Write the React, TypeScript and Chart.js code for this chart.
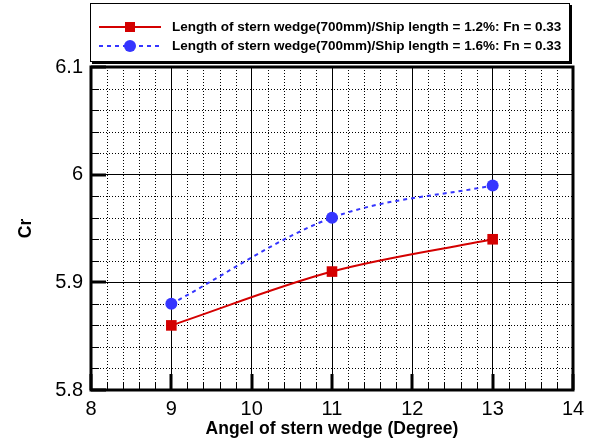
import React, { useEffect, useRef } from "react";
import { Chart, registerables } from "chart.js";

Chart.register(...registerables);

const angles = [9, 11, 13];
const cr12 = [5.86, 5.91, 5.94];
const cr16 = [5.88, 5.96, 5.99];
const seriesLabels = [
  "Length of stern wedge(700mm)/Ship length = 1.2%: Fn = 0.33",
  "Length of stern wedge(700mm)/Ship length = 1.6%: Fn = 0.33",
];
const xTickLabels = ["8", "9", "10", "11", "12", "13", "14"];
const yTickLabels = ["5.8", "5.9", "6", "6.1"];
const xTitle = "Angel of stern wedge (Degree)";
const yTitle = "Cr";

const RED = "#d40000";
const BLUE = "#3535ff";

const decoPlugin = {
  id: "deco",
  beforeDatasetsDraw(chart: any) {
    const ctx = chart.ctx;
    const { left, right, top, bottom } = chart.chartArea;
    const xs = chart.scales.x;
    const ys = chart.scales.y;
    ctx.save();
    // minor dotted grid
    ctx.strokeStyle = "#000";
    ctx.lineWidth = 1;
    ctx.setLineDash([1, 2]);
    for (let i = 0; i <= 30; i++) {
      if (i % 5 === 0) continue;
      const v = 8 + i * 0.2;
      const px = Math.round(xs.getPixelForValue(v)) + 0.5;
      ctx.beginPath();
      ctx.moveTo(px, top);
      ctx.lineTo(px, bottom);
      ctx.stroke();
    }
    for (let i = 0; i <= 15; i++) {
      if (i % 5 === 0) continue;
      const v = 5.8 + i * 0.02;
      const py = Math.round(ys.getPixelForValue(v)) + 0.5;
      ctx.beginPath();
      ctx.moveTo(left, py);
      ctx.lineTo(right, py);
      ctx.stroke();
    }
    ctx.setLineDash([]);
    // inward ticks
    for (let i = 0; i <= 30; i++) {
      const v = 8 + i * 0.2;
      const major = i % 5 === 0;
      const px = Math.round(xs.getPixelForValue(v)) + (major ? 0 : 0.5);
      ctx.lineWidth = major ? 3 : 1;
      ctx.beginPath();
      ctx.moveTo(px, bottom);
      ctx.lineTo(px, bottom - (major ? 16 : 8));
      ctx.stroke();
    }
    for (let i = 0; i <= 15; i++) {
      const v = 5.8 + i * 0.02;
      const major = i % 5 === 0;
      const py = Math.round(ys.getPixelForValue(v)) + (major ? 0 : 0.5);
      ctx.lineWidth = major ? 3 : 1;
      ctx.beginPath();
      ctx.moveTo(left, py);
      ctx.lineTo(left + (major ? 15 : 8), py);
      ctx.stroke();
    }
    // frame
    ctx.lineWidth = 3;
    ctx.strokeRect(left, top, right - left, bottom - top);
    ctx.restore();
  },
  afterDraw(chart: any) {
    const ctx = chart.ctx;
    ctx.save();
    // legend box with shadow
    const bx = 90, by = 3, bw = 480, bh = 59;
    ctx.fillStyle = "#000";
    ctx.fillRect(bx + 2, by + 2, bw, bh);
    ctx.fillStyle = "#fff";
    ctx.fillRect(bx, by, bw, bh);
    ctx.strokeStyle = "#000";
    ctx.lineWidth = 1;
    ctx.strokeRect(bx + 0.5, by + 0.5, bw - 1, bh - 1);
    const rows = [27, 46];
    // row 1
    ctx.strokeStyle = RED;
    ctx.lineWidth = 2;
    ctx.beginPath();
    ctx.moveTo(99, rows[0]);
    ctx.lineTo(161, rows[0]);
    ctx.stroke();
    ctx.fillStyle = RED;
    ctx.fillRect(130 - 5, rows[0] - 5, 10, 10);
    // row 2
    ctx.strokeStyle = BLUE;
    ctx.setLineDash([4, 4]);
    ctx.beginPath();
    ctx.moveTo(99, rows[1]);
    ctx.lineTo(161, rows[1]);
    ctx.stroke();
    ctx.setLineDash([]);
    ctx.fillStyle = BLUE;
    ctx.beginPath();
    ctx.arc(130, rows[1], 6, 0, Math.PI * 2);
    ctx.fill();
    ctx.fillStyle = "#000";
    ctx.font = "bold 13.5px 'Liberation Sans', Arial, sans-serif";
    ctx.textBaseline = "middle";
    ctx.textAlign = "left";
    ctx.fillText(seriesLabels[0], 172, rows[0]);
    ctx.fillText(seriesLabels[1], 172, rows[1]);
    ctx.restore();
  },
};

export default function App() {
  const ref = useRef<HTMLCanvasElement>(null);
  useEffect(() => {
    if (!ref.current) return;
    const chart = new Chart(ref.current, {
      type: "line",
      data: {
        datasets: [
          {
            label: seriesLabels[0],
            data: angles.map((a, i) => ({ x: a, y: cr12[i] })),
            borderColor: RED,
            backgroundColor: RED,
            borderWidth: 2,
            pointStyle: "rect",
            pointRadius: 7.5,
            pointBorderWidth: 0,
            cubicInterpolationMode: "monotone",
          },
          {
            label: seriesLabels[1],
            data: angles.map((a, i) => ({ x: a, y: cr16[i] })),
            borderColor: BLUE,
            backgroundColor: BLUE,
            borderWidth: 2,
            borderDash: [4, 4],
            pointStyle: "circle",
            pointRadius: 6,
            pointBorderWidth: 0,
            cubicInterpolationMode: "monotone",
          },
        ],
      },
      options: {
        animation: false,
        responsive: false,
        layout: { padding: { top: 67, right: 21, left: 0, bottom: 0 } },
        plugins: { legend: { display: false }, tooltip: { enabled: false } },
        scales: {
          x: {
            type: "linear",
            min: 8,
            max: 14,
            afterFit: (s: any) => { s.height = 55; },
            ticks: {
              stepSize: 1,
              padding: 7,
              color: "#000",
              font: { size: 20, family: "'Liberation Sans', Arial, sans-serif" },
              callback: (v: any) => xTickLabels[Math.round(Number(v) - 8)] ?? "",
            },
            grid: { color: "#000", lineWidth: 1, drawTicks: false },
            border: { display: false },
            title: {
              display: true,
              text: xTitle,
              color: "#000",
              padding: { top: 0, bottom: 5 },
              font: { size: 17.5, weight: "bold", family: "'Liberation Sans', Arial, sans-serif" },
            },
          },
          y: {
            type: "linear",
            min: 5.8,
            max: 6.1,
            afterFit: (s: any) => { s.width = 91; },
            ticks: {
              stepSize: 0.1,
              padding: 8,
              color: "#000",
              font: { size: 20, family: "'Liberation Sans', Arial, sans-serif" },
              callback: (v: any) => yTickLabels[Math.round((Number(v) - 5.8) * 10)] ?? "",
            },
            grid: { color: "#000", lineWidth: 1, drawTicks: false },
            border: { display: false },
            title: {
              display: true,
              text: yTitle,
              color: "#000",
              padding: { top: 16, bottom: 0 },
              font: { size: 17.5, weight: "bold", family: "'Liberation Sans', Arial, sans-serif" },
            },
          },
        },
      },
      plugins: [decoPlugin],
    } as any);
    return () => chart.destroy();
  }, []);
  return (
    <div style={{ position: "absolute", left: 0, top: 0, width: 594, height: 445, background: "#fff" }}>
      <canvas ref={ref} width={594} height={445} style={{ display: "block" }} />
    </div>
  );
}
